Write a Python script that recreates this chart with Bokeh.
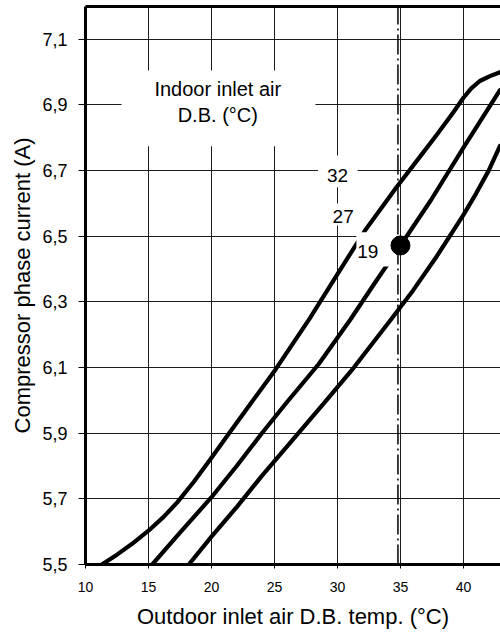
from bokeh.plotting import figure
from bokeh.models import FixedTicker, CustomJSTickFormatter, Range1d, LinearAxis
from bokeh.embed import file_html
from bokeh.resources import INLINE
from bokeh.core.properties import value

# ---------------- data ----------------
x_ticks = [10, 15, 20, 25, 30, 35, 40]
y_ticks = [5.5, 5.7, 5.9, 6.1, 6.3, 6.5, 6.7, 6.9, 7.1]

# indoor 32 degC curve
c32_x = [10.1, 11.3, 12.5, 13.7, 15.0, 16.2, 17.3, 18.6, 20.0, 21.5, 23.1, 25.1, 27.8, 30.0,
         32.2, 34.7, 36.6, 37.9, 39.2, 40.0, 40.6, 41.3, 42.1, 42.9]
c32_y = [5.47, 5.50, 5.530, 5.563, 5.603, 5.645, 5.69, 5.752, 5.825, 5.905, 5.99, 6.095, 6.25, 6.385,
         6.518, 6.65, 6.745, 6.81, 6.878, 6.922, 6.95, 6.973, 6.988, 7.0]
# indoor 27 degC curve
c27_x = [14.6, 15.3, 17.5, 20.0, 22.0, 24.0, 26.0, 28.5, 31.0, 33.0, 35.0, 37.4, 40.0, 42.9]
c27_y = [5.47, 5.50, 5.597, 5.705, 5.80, 5.90, 5.995, 6.11, 6.245, 6.36, 6.472, 6.609, 6.77, 6.945]
# indoor 19 degC curve
c19_x = [17.6, 18.2, 20.0, 22.0, 24.0, 26.9, 29.0, 31.3, 34.2, 36.0, 37.9, 40.0, 41.0, 42.0, 42.9]
c19_y = [5.47, 5.50, 5.585, 5.675, 5.77, 5.90, 5.995, 6.10, 6.244, 6.335, 6.44, 6.565, 6.63, 6.70, 6.775]

curve_names = ["32", "27", "19"]
name_x = [30.0, 30.45, 32.4]
name_y = [6.685, 6.561, 6.454]

rated_x = [35.0]
rated_y = [6.472]
outdoor_ref = 34.8

note_lines = ["Indoor inlet air", "D.B. (°C)"]
note_x = [20.5, 20.5]
note_y = [6.948, 6.868]

# white masks behind labels (left, right, bottom, top)
mask_l = [12.86, 28.45, 29.3, 31.5]
mask_r = [28.25, 31.6, 31.65, 34.68]
mask_b = [6.774, 6.649, 6.533, 6.408]
mask_t = [7.005, 6.746, 6.600, 6.512]

FONT = "Liberation Sans"
X0, X1 = 10, 42.94
Y0, Y1 = 5.5, 7.2

p = figure(width=500, height=633,
           x_range=Range1d(X0, X1), y_range=Range1d(Y0, Y1),
           output_backend="svg", toolbar_location=None,
           min_border_left=85, min_border_right=0, min_border_top=6, min_border_bottom=69)
p.outline_line_color = None
p.background_fill_color = "white"
p.border_fill_color = "white"

# grid
p.xgrid.ticker = FixedTicker(ticks=x_ticks)
p.ygrid.ticker = FixedTicker(ticks=y_ticks)
for g in (p.xgrid[0], p.ygrid[0]):
    g.grid_line_color = "#1a1a1a"
    g.grid_line_width = 1
    g.grid_line_alpha = 1.0

# x axis
xa = p.xaxis[0]
xa.ticker = FixedTicker(ticks=x_ticks)
xa.axis_label = "Outdoor inlet air D.B. temp. (°C)"
xa.axis_label_text_font = FONT
xa.axis_label_text_font_size = "22px"
xa.axis_label_text_font_style = "normal"
xa.axis_label_text_color = "black"
xa.axis_label_standoff = 9
xa.major_label_text_font = FONT
xa.major_label_text_font_size = "14px"
xa.major_label_text_color = "black"
xa.major_label_standoff = 13
xa.axis_line_width = 3
xa.axis_line_color = "black"
xa.major_tick_out = 4
xa.major_tick_in = 0
xa.major_tick_line_color = "black"
xa.minor_tick_line_color = None

# y axis
ya = p.yaxis[0]
ya.ticker = FixedTicker(ticks=y_ticks)
ya.formatter = CustomJSTickFormatter(code="return tick.toFixed(1).replace('.', ',');")
ya.axis_label = "Compressor phase current (A)"
ya.axis_label_text_font = FONT
ya.axis_label_text_font_size = "22px"
ya.axis_label_text_font_style = "normal"
ya.axis_label_text_color = "black"
ya.axis_label_standoff = 4
ya.major_label_text_font = FONT
ya.major_label_text_font_size = "18px"
ya.major_label_text_color = "black"
ya.major_label_standoff = 11
ya.axis_line_width = 3
ya.axis_line_color = "black"
ya.major_tick_out = 7
ya.major_tick_in = 0
ya.major_tick_line_color = "black"
ya.minor_tick_line_color = None

# top frame line
top = LinearAxis(ticker=FixedTicker(ticks=[]), major_label_text_font_size="0px",
                 major_tick_out=0, major_tick_in=0, minor_tick_out=0, minor_tick_in=0,
                 major_label_standoff=0, axis_line_width=3, axis_line_color="black")
p.add_layout(top, "above")

# curves
for cx, cy in ((c32_x, c32_y), (c27_x, c27_y), (c19_x, c19_y)):
    p.line(cx, cy, line_color="black", line_width=4.2, line_join="round", line_cap="round")

# reference vertical dash-dot line
p.line([outdoor_ref, outdoor_ref], [Y0, Y1], line_color="black", line_width=1.5,
       line_dash="20 4 2 4")

# white masks
p.quad(left=mask_l, right=mask_r, bottom=mask_b, top=mask_t,
       fill_color="white", line_color=None)

# texts
p.text(x=note_x, y=note_y, text=note_lines, text_font=value(FONT),
       text_font_size=value("20px"), text_align="center", text_baseline="middle",
       text_color="black")
p.text(x=name_x, y=name_y, text=curve_names, text_font=value(FONT),
       text_font_size=value("19px"), text_align="center", text_baseline="middle",
       text_color="black")

# rated point
p.scatter(rated_x, rated_y, size=19, marker="circle", fill_color="black", line_color="black")

open("out.html", "w").write(file_html(p, INLINE))
